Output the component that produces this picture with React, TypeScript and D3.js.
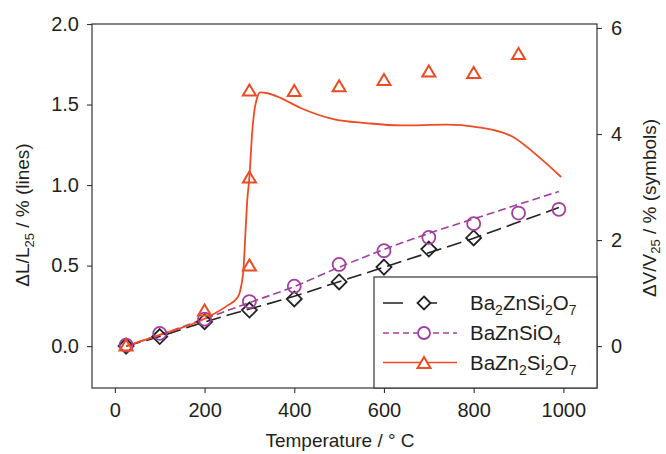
import React, { useEffect, useRef } from "react";
import * as d3 from "d3";

// ---------- data ----------
const xTicks = [0, 200, 400, 600, 800, 1000];
const yLeftTicks = [0, 0.5, 1.0, 1.5, 2.0];
const yRightTicks = [0, 2, 4, 6];

// symbols: volume change (right axis, %)
const bzs2Temps = [25, 100, 200, 300, 400, 500, 600, 700, 800];
const bzs2Vol = [0.0, 0.18, 0.46, 0.68, 0.89, 1.21, 1.49, 1.83, 2.04];

const bzsTemps = [25, 100, 200, 300, 400, 500, 600, 700, 800, 900, 990];
const bzsVol = [0.02, 0.24, 0.51, 0.84, 1.13, 1.54, 1.8, 2.05, 2.31, 2.51, 2.58];

const bz2sTemps = [25, 200, 300, 300, 300, 400, 500, 600, 700, 800, 900];
const bz2sVol = [0.02, 0.68, 1.53, 3.19, 4.83, 4.82, 4.91, 5.03, 5.19, 5.16, 5.52];

// lines: linear expansion (left axis, %)
const bzs2LineT = [25, 100, 200, 300, 400, 500, 600, 700, 800, 900, 990];
const bzs2LineV = [0.0, 0.06, 0.15, 0.23, 0.31, 0.4, 0.49, 0.58, 0.67, 0.77, 0.86];

const bzsLineT = [25, 100, 200, 300, 400, 500, 600, 700, 800, 900, 990];
const bzsLineV = [0.0, 0.07, 0.17, 0.27, 0.37, 0.49, 0.6, 0.7, 0.79, 0.88, 0.96];

const bz2sLineT = [25, 100, 200, 250, 273, 280, 287, 292, 295, 300, 306, 311, 317, 324, 340, 370, 413, 487, 560, 636, 740, 807, 887, 947, 995];
const bz2sLineV = [0.0, 0.07, 0.17, 0.25, 0.3, 0.35, 0.49, 0.75, 0.9, 1.05, 1.32, 1.46, 1.54, 1.575, 1.57, 1.54, 1.48, 1.41, 1.385, 1.37, 1.375, 1.36, 1.3, 1.17, 1.05];

const BLACK = "#222222";
const PURPLE = "#A23EA0";
const ORANGE = "#EE4B22";
const TEXT = "#231f20";
const FONT = "'Liberation Sans', Arial, sans-serif";

export default function App() {
  const ref = useRef<SVGSVGElement>(null);

  useEffect(() => {
    const svg = d3.select(ref.current);
    svg.selectAll("*").remove();

    const left = 92, right = 597, top = 24, bottom = 388;
    const x = d3.scaleLinear().domain([-51, 1075]).range([left, right]);
    const yL = d3.scaleLinear().domain([-0.26, 2.0]).range([bottom, top]);
    const yR = d3.scaleLinear().domain([-0.79, 6.075]).range([bottom, top]);

    // axes
    const fmt1 = d3.format(".1f");
    const gx = svg.append("g").attr("transform", `translate(0,${bottom})`)
      .call(d3.axisBottom(x).tickValues(xTicks).tickSize(5).tickPadding(10).tickFormat(d3.format("d")));
    const gl = svg.append("g").attr("transform", `translate(${left},0)`)
      .call(d3.axisLeft(yL).tickValues(yLeftTicks).tickSize(5).tickPadding(8).tickFormat((d: any) => fmt1(d)));
    const gr = svg.append("g").attr("transform", `translate(${right},0)`)
      .call(d3.axisRight(yR).tickValues(yRightTicks).tickSize(5).tickPadding(9).tickFormat(d3.format("d")));
    [gx, gl, gr].forEach((g) => {
      g.select(".domain").remove();
      g.selectAll("line").attr("stroke", "#333").attr("stroke-width", 1.1);
      g.selectAll("text").attr("font-family", FONT).attr("font-size", 20).attr("fill", TEXT);
    });

    // frame
    svg.append("rect").attr("x", left).attr("y", top).attr("width", right - left).attr("height", bottom - top)
      .attr("fill", "none").attr("stroke", "#333").attr("stroke-width", 1.2);

    const plot = svg.append("g");

    // lines
    const mk = (ts: number[], vs: number[]) => ts.map((t, i) => [t, vs[i]] as [number, number]);
    const line = d3.line<[number, number]>().x((d) => x(d[0])).y((d) => yL(d[1])).curve(d3.curveMonotoneX);

    plot.append("path").attr("d", line(mk(bzs2LineT, bzs2LineV)))
      .attr("fill", "none").attr("stroke", BLACK).attr("stroke-width", 1.6).attr("stroke-dasharray", "15,6");
    plot.append("path").attr("d", line(mk(bzsLineT, bzsLineV)))
      .attr("fill", "none").attr("stroke", PURPLE).attr("stroke-width", 1.6).attr("stroke-dasharray", "8,4");
    plot.append("path").attr("d", line(mk(bz2sLineT, bz2sLineV)))
      .attr("fill", "none").attr("stroke", ORANGE).attr("stroke-width", 1.8);

    // markers
    const diamond = (cx: number, cy: number, r = 7.5) => `M${cx},${cy - r}L${cx + r},${cy}L${cx},${cy + r}L${cx - r},${cy}Z`;
    const tri = (cx: number, cy: number, w = 13, h = 11) => `M${cx},${cy - h / 2}L${cx + w / 2},${cy + h / 2}L${cx - w / 2},${cy + h / 2}Z`;

    mk(bzs2Temps, bzs2Vol).forEach(([t, v]) => {
      plot.append("path").attr("d", diamond(x(t), yR(v))).attr("fill", "none").attr("stroke", BLACK).attr("stroke-width", 1.8);
    });
    mk(bzsTemps, bzsVol).forEach(([t, v]) => {
      plot.append("circle").attr("cx", x(t)).attr("cy", yR(v)).attr("r", 6.5).attr("fill", "none").attr("stroke", PURPLE).attr("stroke-width", 1.8);
    });
    mk(bz2sTemps, bz2sVol).forEach(([t, v]) => {
      plot.append("path").attr("d", tri(x(t), yR(v))).attr("fill", "none").attr("stroke", ORANGE).attr("stroke-width", 2);
    });

    // legend
    const lg = svg.append("g");
    lg.append("rect").attr("x", 374).attr("y", 277).attr("width", right - 374).attr("height", bottom - 277)
      .attr("fill", "white").attr("stroke", "#333").attr("stroke-width", 1.2);
    const entries = [
      { parts: [["Ba", 0], ["2", 1], ["ZnSi", 0], ["2", 1], ["O", 0], ["7", 1]], color: BLACK, dash: "15,6", m: "d", y: 303 },
      { parts: [["BaZnSiO", 0], ["4", 1]], color: PURPLE, dash: "6,4", m: "c", y: 333 },
      { parts: [["BaZn", 0], ["2", 1], ["Si", 0], ["2", 1], ["O", 0], ["7", 1]], color: ORANGE, dash: null, m: "t", y: 362.5 },
    ];
    entries.forEach((e) => {
      const l = lg.append("line").attr("x1", 383).attr("x2", 457).attr("y1", e.y).attr("y2", e.y)
        .attr("stroke", e.color).attr("stroke-width", 1.6);
      if (e.m === "d") {
        l.attr("stroke-dasharray", "20,14,20");
        lg.append("path").attr("d", diamond(424, e.y, 6.5)).attr("fill", "white").attr("stroke", e.color).attr("stroke-width", 1.8);
      } else if (e.m === "c") {
        l.attr("stroke-dasharray", e.dash as string);
        lg.append("circle").attr("cx", 424).attr("cy", e.y).attr("r", 6).attr("fill", "white").attr("stroke", e.color).attr("stroke-width", 1.8);
      } else {
        lg.append("path").attr("d", tri(424, e.y, 13, 11)).attr("fill", "white").attr("stroke", e.color).attr("stroke-width", 2);
      }
      const t = lg.append("text").attr("x", 470).attr("y", e.y + 7).attr("font-family", FONT).attr("font-size", 20.5).attr("fill", TEXT);
      let cur = 0;
      e.parts.forEach(([s, sub]) => {
        const target = sub ? 5 : 0;
        const ts = t.append("tspan").text(s as string).attr("dy", target - cur);
        if (sub) ts.attr("font-size", 14);
        cur = target;
      });
    });

    // axis titles
    svg.append("text").attr("x", 340).attr("y", 447).attr("text-anchor", "middle")
      .attr("font-family", FONT).attr("font-size", 19).attr("fill", TEXT).text("Temperature / ° C");

    const lt = svg.append("text").attr("transform", "translate(29,215) rotate(-90)").attr("text-anchor", "middle")
      .attr("font-family", FONT).attr("font-size", 19).attr("fill", TEXT);
    lt.append("tspan").text("ΔL/L");
    lt.append("tspan").text("25").attr("font-size", 13).attr("dy", 5);
    lt.append("tspan").text(" / % (lines)").attr("dy", -5);

    const rt = svg.append("text").attr("transform", "translate(656,208) rotate(-90)").attr("text-anchor", "middle")
      .attr("font-family", FONT).attr("font-size", 19).attr("fill", TEXT);
    rt.append("tspan").text("ΔV/V");
    rt.append("tspan").text("25").attr("font-size", 13).attr("dy", 4);
    rt.append("tspan").text(" / % (symbols)").attr("dy", -4);
  }, []);

  return (
    <svg ref={ref} width={666} height={454} style={{ position: "absolute", left: 0, top: 0, background: "white" }} />
  );
}
